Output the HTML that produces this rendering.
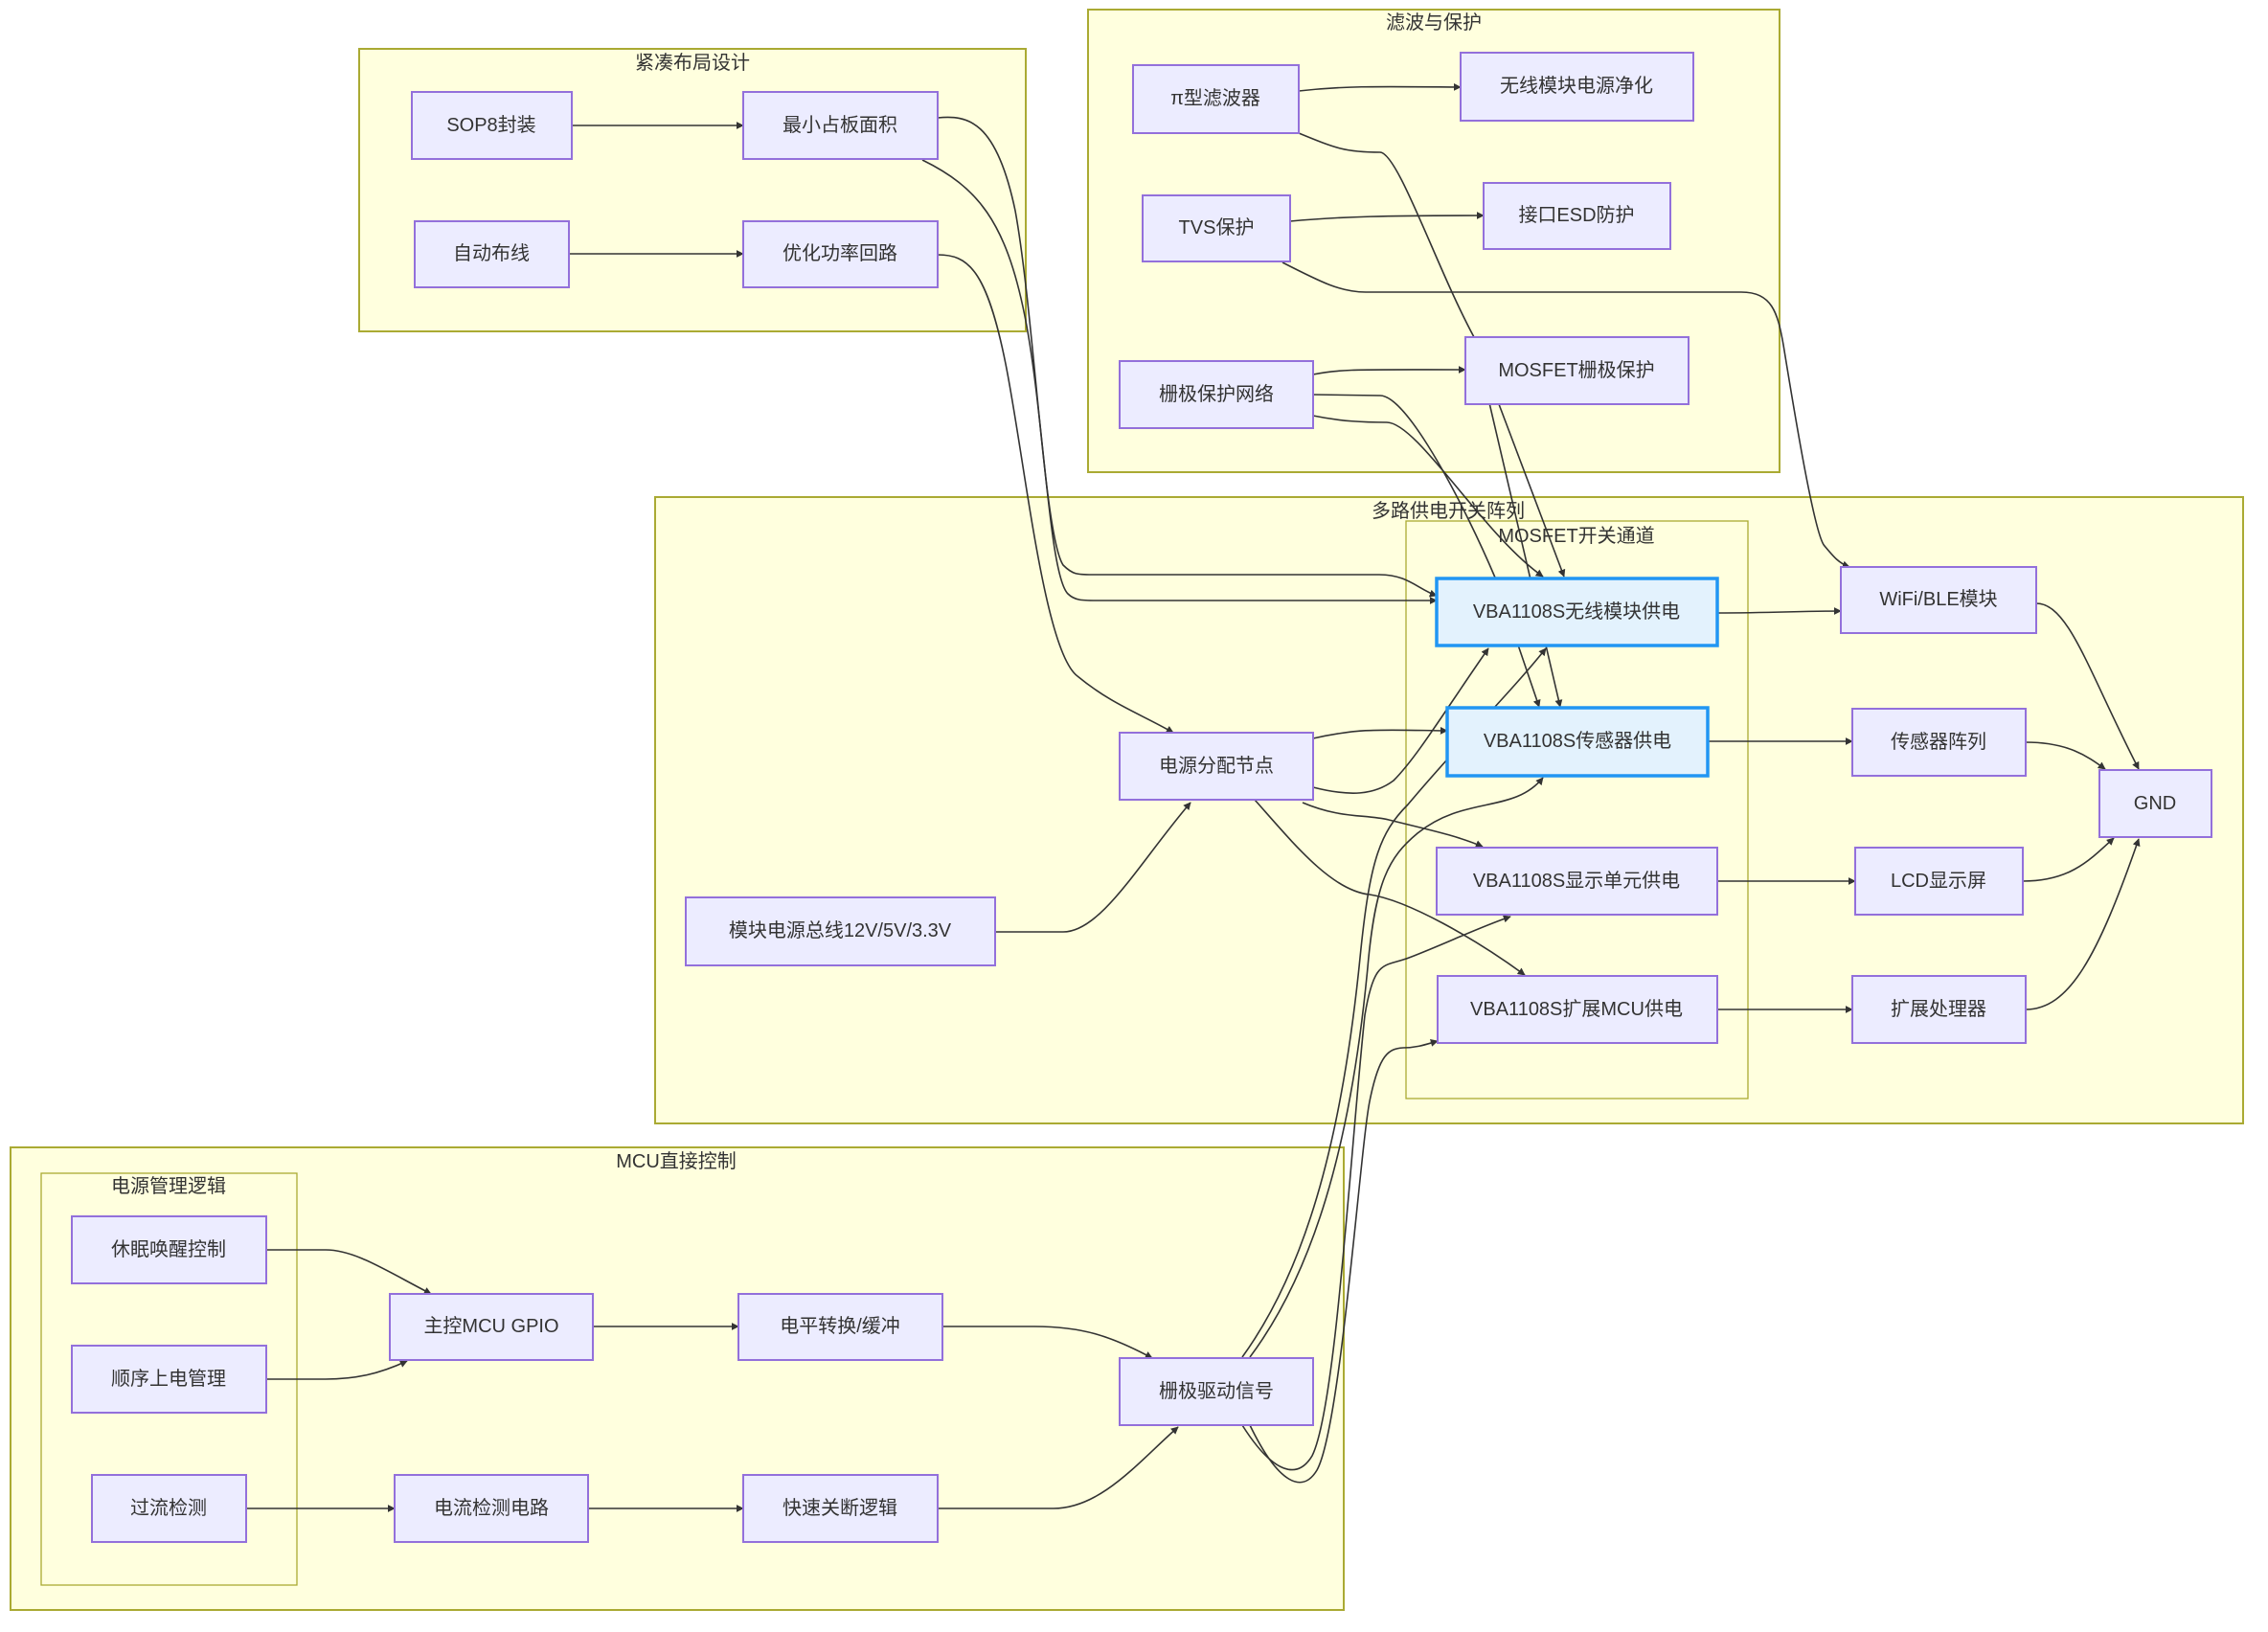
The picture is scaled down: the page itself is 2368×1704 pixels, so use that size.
<!DOCTYPE html>
<html><head><meta charset="utf-8"><style>
html,body{margin:0;padding:0;background:#fff;}
svg{display:block;font-family:"Liberation Sans","Noto Sans CJK SC",sans-serif;}
.c{fill:#ffffde;stroke:#aaaa33;stroke-width:2;}
.ci{fill:#ffffde;stroke:#aaaa33;stroke-width:1.3;}
.n{fill:#ececff;stroke:#9370db;stroke-width:2;}
.b{fill:#e3f2fd;stroke:#2196f3;stroke-width:3.5;}
.e{fill:none;stroke:#333;stroke-width:1.6;marker-end:url(#a);}
.e2{fill:none;stroke:#333;stroke-width:1.6;}
text{font-size:20px;fill:#333;text-anchor:middle;dominant-baseline:central;}
</style></head><body>
<svg width="2368" height="1704" viewBox="0 0 2368 1704">
<defs><marker id="a" viewBox="0 0 10 10" refX="9" refY="5" markerWidth="8" markerHeight="8" orient="auto" markerUnits="userSpaceOnUse"><path d="M0,0L10,5L0,10z" fill="#333"/></marker></defs>
<!-- clusters -->
<rect class="c" x="375" y="51" width="696" height="295"/><text x="723" y="66">紧凑布局设计</text>
<rect class="c" x="1136" y="10" width="722" height="483"/><text x="1497" y="24">滤波与保护</text>
<rect class="c" x="684" y="519" width="1658" height="654"/><text x="1512" y="534">多路供电开关阵列</text>
<rect class="ci" x="1468" y="544" width="357" height="603"/><text x="1646" y="560">MOSFET开关通道</text>
<rect class="c" x="11" y="1198" width="1392" height="483"/><text x="706" y="1213">MCU直接控制</text>
<rect class="ci" x="43" y="1225" width="267" height="430"/><text x="176" y="1239">电源管理逻辑</text>
<!-- edges -->
<path class="e" d="M597,131L776,131"/>
<path class="e" d="M594,265L776,265"/>
<path class="e" d="M979,123C1010,120 1040,125 1060,220C1080,330 1090,560 1110,590C1120,600 1125,600 1140,600L1440,600C1470,600 1480,615 1500,622"/>
<path class="e" d="M963,167C1020,195 1050,230 1070,330C1090,430 1095,600 1115,620C1122,627 1130,627 1145,627L1500,627"/>
<path class="e" d="M979,266C1010,266 1030,280 1050,380C1070,480 1090,680 1125,706C1160,735 1190,745 1225,765"/>
<path class="e" d="M1356,95C1400,90 1430,90 1525,91"/>
<path class="e2" d="M1356,139C1395,155 1405,159 1441,159C1460,160 1500,280 1539,352"/>
<path class="e" d="M1539,352L1629,738"/>
<path class="e" d="M1347,231C1400,226 1450,225 1549,225"/>
<path class="e" d="M1339,274C1380,295 1400,305 1426,305L1818,305C1850,305 1856,326 1862,360C1875,440 1895,560 1905,570C1915,582 1920,588 1931,592"/>
<path class="e" d="M1371,391C1400,385 1420,386 1530,386"/>
<path class="e" d="M1371,412L1441,413C1470,413 1530,530 1561,603L1607,738"/>
<path class="e" d="M1371,434C1400,440 1425,441 1448,441C1480,441 1550,560 1611,602"/>
<path class="e" d="M1565,422L1633,602"/>
<path class="e" d="M1793,640C1850,640 1880,638 1922,638"/>
<path class="e" d="M1783,774L1934,774"/>
<path class="e" d="M1793,920L1937,920"/>
<path class="e" d="M1793,1054L1934,1054"/>
<path class="e" d="M2126,630C2160,630 2180,700 2233,803"/>
<path class="e" d="M2115,775C2160,775 2180,790 2198,803"/>
<path class="e" d="M2112,920C2160,920 2180,900 2207,875"/>
<path class="e" d="M2115,1054C2160,1054 2190,1000 2233,876"/>
<path class="e" d="M1371,771C1420,760 1440,762 1511,763"/>
<path class="e" d="M1371,822C1410,832 1435,830 1455,815C1480,790 1510,740 1554,677"/>
<path class="e" d="M1360,838C1400,855 1425,850 1450,856C1490,866 1520,872 1548,884"/>
<path class="e" d="M1310,835C1350,880 1390,930 1430,934C1470,940 1540,980 1592,1018"/>
<path class="e" d="M1039,973L1110,973C1150,973 1190,900 1243,838"/>
<path class="e" d="M1297,1417C1360,1330 1400,1200 1420,1000C1430,900 1440,870 1470,840C1520,780 1580,720 1614,677"/>
<path class="e" d="M1305,1417C1370,1330 1410,1200 1428,1010C1436,920 1450,895 1480,870C1530,830 1580,850 1611,812"/>
<path class="e" d="M1297,1488C1330,1540 1355,1545 1370,1520C1395,1470 1410,1200 1425,1060C1435,1000 1445,1010 1471,1000C1510,985 1540,970 1577,957"/>
<path class="e" d="M1305,1488C1335,1550 1360,1560 1375,1535C1400,1490 1420,1200 1430,1150C1440,1100 1450,1095 1465,1094C1480,1094 1490,1090 1501,1087"/>
<path class="e" d="M278,1305L340,1305C370,1305 400,1325 450,1351"/>
<path class="e" d="M278,1440L340,1440C370,1440 395,1435 425,1421"/>
<path class="e" d="M619,1385L771,1385"/>
<path class="e" d="M984,1385L1080,1385C1130,1385 1160,1395 1203,1418"/>
<path class="e" d="M257,1575L412,1575"/>
<path class="e" d="M614,1575L776,1575"/>
<path class="e" d="M979,1575L1100,1575C1150,1575 1190,1525 1230,1490"/>
<!-- nodes -->
<rect class="n" x="430" y="96" width="167" height="70"/><text x="513" y="131">SOP8封装</text>
<rect class="n" x="776" y="96" width="203" height="70"/><text x="877" y="131">最小占板面积</text>
<rect class="n" x="433" y="231" width="161" height="69"/><text x="513" y="265">自动布线</text>
<rect class="n" x="776" y="231" width="203" height="69"/><text x="877" y="265">优化功率回路</text>
<rect class="n" x="1183" y="68" width="173" height="71"/><text x="1269" y="103">π型滤波器</text>
<rect class="n" x="1525" y="55" width="243" height="71"/><text x="1646" y="90">无线模块电源净化</text>
<rect class="n" x="1193" y="204" width="154" height="69"/><text x="1270" y="238">TVS保护</text>
<rect class="n" x="1549" y="191" width="195" height="69"/><text x="1646" y="225">接口ESD防护</text>
<rect class="n" x="1169" y="377" width="202" height="70"/><text x="1270" y="412">栅极保护网络</text>
<rect class="n" x="1530" y="352" width="233" height="70"/><text x="1646" y="387">MOSFET栅极保护</text>
<rect class="b" x="1500" y="604" width="293" height="70"/><text x="1646" y="639">VBA1108S无线模块供电</text>
<rect class="n" x="1922" y="592" width="204" height="69"/><text x="2024" y="626">WiFi/BLE模块</text>
<rect class="n" x="1169" y="765" width="202" height="70"/><text x="1270" y="800">电源分配节点</text>
<rect class="b" x="1511" y="739" width="272" height="71"/><text x="1647" y="774">VBA1108S传感器供电</text>
<rect class="n" x="1934" y="740" width="181" height="70"/><text x="2024" y="775">传感器阵列</text>
<rect class="n" x="2192" y="804" width="117" height="70"/><text x="2250" y="839">GND</text>
<rect class="n" x="716" y="937" width="323" height="71"/><text x="877" y="972">模块电源总线12V/5V/3.3V</text>
<rect class="n" x="1500" y="885" width="293" height="70"/><text x="1646" y="920">VBA1108S显示单元供电</text>
<rect class="n" x="1937" y="885" width="175" height="70"/><text x="2024" y="920">LCD显示屏</text>
<rect class="n" x="1501" y="1019" width="292" height="70"/><text x="1646" y="1054">VBA1108S扩展MCU供电</text>
<rect class="n" x="1934" y="1019" width="181" height="70"/><text x="2024" y="1054">扩展处理器</text>
<rect class="n" x="75" y="1270" width="203" height="70"/><text x="176" y="1305">休眠唤醒控制</text>
<rect class="n" x="75" y="1405" width="203" height="70"/><text x="176" y="1440">顺序上电管理</text>
<rect class="n" x="96" y="1540" width="161" height="70"/><text x="176" y="1575">过流检测</text>
<rect class="n" x="407" y="1351" width="212" height="69"/><text x="513" y="1385">主控MCU GPIO</text>
<rect class="n" x="771" y="1351" width="213" height="69"/><text x="877" y="1385">电平转换/缓冲</text>
<rect class="n" x="412" y="1540" width="202" height="70"/><text x="513" y="1575">电流检测电路</text>
<rect class="n" x="776" y="1540" width="203" height="70"/><text x="877" y="1575">快速关断逻辑</text>
<rect class="n" x="1169" y="1418" width="202" height="70"/><text x="1270" y="1453">栅极驱动信号</text>
</svg>
</body></html>
